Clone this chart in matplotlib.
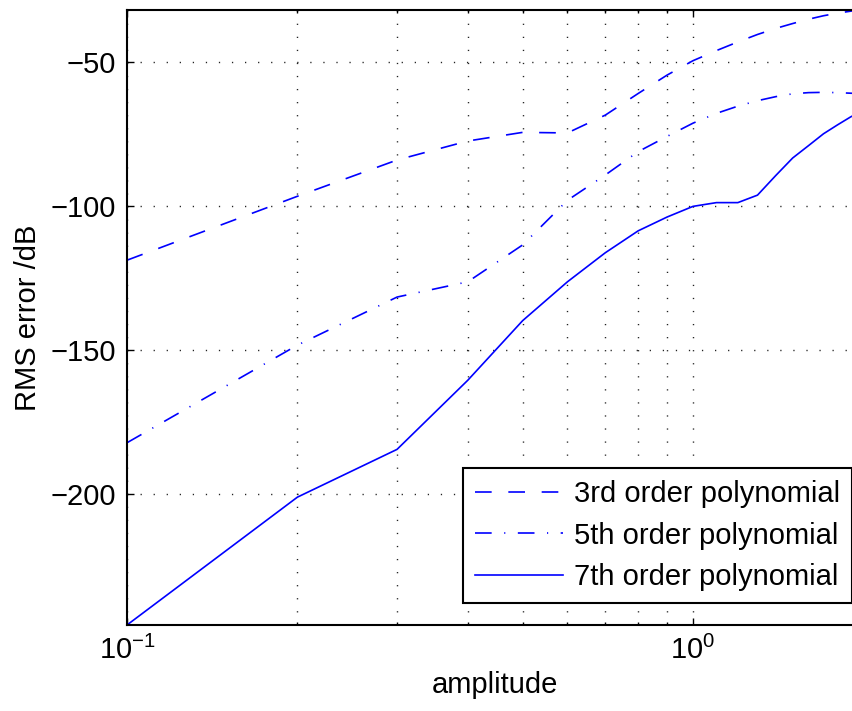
import matplotlib
matplotlib.use("Agg")
import matplotlib.pyplot as plt
from matplotlib.ticker import LogLocator, FixedLocator, NullFormatter

plt.rcParams['font.family'] = ['Liberation Sans', 'DejaVu Sans']
plt.rcParams['mathtext.default'] = 'regular'
plt.rcParams['axes.unicode_minus'] = True

amplitude = [0.1, 0.2, 0.3, 0.4, 0.5, 0.6, 0.7, 0.8, 0.9, 1.0,
             1.1, 1.2, 1.3, 1.4, 1.5, 1.6, 1.7, 1.8, 1.9, 2.0]

err_3rd = [-118.8, -96.6, -84.0, -77.4, -74.4, -74.6, -68.4, -60.9, -54.5, -49.5,
           -46.0, -43.0, -40.4, -38.3, -36.6, -35.1, -33.9, -33.0, -32.3, -31.9]
err_5th = [-182.2, -148.3, -131.6, -126.3, -113.5, -98.0, -89.2, -81.1, -75.8, -71.2,
           -67.8, -65.3, -63.4, -62.0, -61.0, -60.6, -60.5, -60.6, -60.8, -61.0]
err_7th = [-245.5, -201.1, -184.5, -160.5, -139.8, -126.3, -116.2, -108.6, -103.8, -100.1,
           -98.8, -98.8, -96.2, -89.4, -83.3, -79.0, -74.9, -71.8, -69.0, -66.8]

labels = ['3rd order polynomial', '5th order polynomial', '7th order polynomial']
yticks = [-200, -150, -100, -50]

FS = 21
W, H = 853, 711
fig = plt.figure(figsize=(W / 100, H / 100), dpi=100)
left, right, top, bottom = 127, 863.4, 10, 625
ax = fig.add_axes([left / W, 1 - bottom / H, (right - left) / W, (bottom - top) / H])

blue = (0, 0, 1)
lw = 1.2
ax.plot(amplitude, err_3rd, color=blue, lw=lw, dashes=(10, 10), label=labels[0])
ax.plot(amplitude, err_5th, color=blue, lw=lw, dashes=(10, 7.5, 0.7, 7.5), label=labels[1])
ax.plot(amplitude, err_7th, color=blue, lw=lw, label=labels[2])

ax.set_xscale('log')
ax.set_xlim(min(amplitude), max(amplitude))
ymin = min(min(err_3rd), min(err_5th), min(err_7th))
ymax = max(max(err_3rd), max(err_5th), max(err_7th))
ax.set_ylim(ymin, ymax)

ax.xaxis.set_major_locator(LogLocator(base=10))
ax.xaxis.set_minor_locator(LogLocator(base=10, subs=range(2, 10)))
ax.xaxis.set_minor_formatter(NullFormatter())
ax.yaxis.set_major_locator(FixedLocator(yticks))

grid_style = dict(color='#222222', linestyle=(0, (0.9, 8.5)), linewidth=1.0)
ax.grid(True, which='major', axis='both', **grid_style)
ax.grid(True, which='minor', axis='x', **grid_style)

ax.tick_params(which='both', direction='in', top=True, right=True, labelsize=FS,
               width=1.0, colors='black')
ax.tick_params(which='major', length=5, pad=8)
ax.tick_params(which='minor', length=2.5)
for s in ax.spines.values():
    s.set_linewidth(1.5)

ax.set_xlabel('amplitude', fontsize=FS, labelpad=4)
ax.set_ylabel('RMS error /dB', fontsize=FS, labelpad=6)

leg = ax.legend(loc='lower right', bbox_to_anchor=(852 / W, 1 - 603 / H),
                bbox_transform=fig.transFigure, fontsize=FS, frameon=True,
                fancybox=False, borderaxespad=0, handlelength=3.0,
                handletextpad=0.38, labelspacing=0.45, borderpad=0.42)
leg.get_frame().set_edgecolor('black')
leg.get_frame().set_linewidth(1.5)
leg.get_frame().set_alpha(1)

fig.savefig('out.png', dpi=100)
